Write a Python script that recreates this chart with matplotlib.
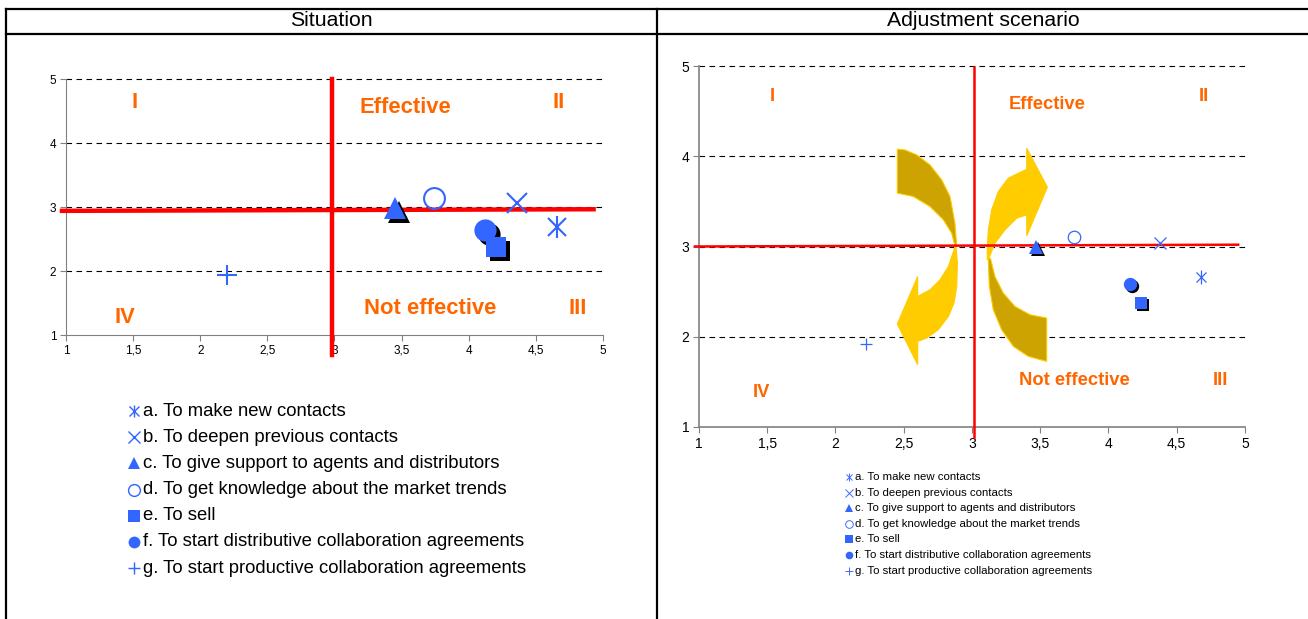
#importing libraries
import matplotlib
matplotlib.use('Agg')
from matplotlib import pyplot as plt
from matplotlib.lines import Line2D
from matplotlib.transforms import offset_copy

plt.rcParams['font.family'] = ['Liberation Sans', 'DejaVu Sans']

W, H = 1308, 619   # output size in pixels

# ---- data ----
labels = ['a. To make new contacts',
          'b. To deepen previous contacts',
          'c. To give support to agents and distributors',
          'd. To get knowledge about the market trends',
          'e. To sell',
          'f. To start distributive collaboration agreements',
          'g. To start productive collaboration agreements']

x_sit = [4.66, 4.36, 3.45, 3.74, 4.20, 4.12, 2.20]
y_sit = [2.69, 3.06, 2.98, 3.14, 2.38, 2.64, 1.94]

x_adj = [4.68, 4.38, 3.47, 3.75, 4.24, 4.16, 2.22]
y_adj = [2.66, 3.04, 2.99, 3.11, 2.37, 2.58, 1.92]

xticks = [1, 1.5, 2, 2.5, 3, 3.5, 4, 4.5, 5]
xtick_labels = ['1', '1,5', '2', '2,5', '3', '3,5', '4', '4,5', '5']
yticks = [1, 2, 3, 4, 5]

quad_names = ['I', 'II', 'III', 'IV', 'Effective', 'Not effective']
quad_sit_x = [1.51, 4.67, 4.81, 1.44, 3.53, 3.71]
quad_sit_y = [4.63, 4.63, 1.42, 1.27, 4.55, 1.42]
quad_adj_x = [1.54, 4.70, 4.82, 1.46, 3.55, 3.75]
quad_adj_y = [4.66, 4.66, 1.51, 1.38, 4.57, 1.51]

# red quadrant lines (x0, y0, x1, y1)
red_sit_h = [0.97, 2.94, 4.93, 2.965]
red_sit_v = [2.98, 5.0, 2.98, 0.69]
red_adj_h = [0.97, 3.0, 4.95, 3.02]
red_adj_v = [3.015, 4.99, 3.015, 0.89]

# curved arrows in the adjustment scenario (outlines in data units)
left_tail_x = [2.453, 2.509, 2.595, 2.692, 2.778, 2.839, 2.875, 2.888, 2.875, 2.851, 2.790, 2.692, 2.570, 2.453]
left_tail_y = [4.078, 4.070, 4.015, 3.904, 3.739, 3.554, 3.259, 3.007, 3.007, 3.148, 3.296, 3.443, 3.554, 3.591]
left_head_x = [2.883, 2.893, 2.888, 2.868, 2.827, 2.753, 2.668, 2.602, 2.602, 2.453, 2.602, 2.602, 2.692, 2.766, 2.827, 2.868, 2.875]
left_head_y = [3.000, 2.815, 2.557, 2.373, 2.225, 2.078, 1.986, 1.948, 1.690, 2.141, 2.668, 2.446, 2.520, 2.631, 2.778, 2.963, 3.007]
right_head_x = [3.112, 3.112, 3.120, 3.144, 3.193, 3.266, 3.401, 3.401, 3.552, 3.401, 3.401, 3.327, 3.242, 3.168, 3.132]
right_head_y = [2.850, 3.000, 3.185, 3.406, 3.609, 3.757, 3.857, 4.089, 3.657, 3.118, 3.351, 3.314, 3.185, 3.037, 2.900]
right_tail_x = [3.120, 3.120, 3.127, 3.156, 3.217, 3.303, 3.413, 3.547, 3.547, 3.425, 3.315, 3.229, 3.168, 3.144, 3.135]
right_tail_y = [2.870, 2.815, 2.557, 2.299, 2.078, 1.893, 1.782, 1.727, 2.207, 2.244, 2.336, 2.484, 2.668, 2.815, 2.870]

BLUE = '#3366FF'
ORANGE = '#FF6600'
RED = '#FF0000'


def px2fig(px, py):
    return px / W, 1 - py / H


def draw_marker(ax, x, y, i, s, shadow):
    # one marker per category, shadow for the filled ones
    lw = 1.5 * s
    if i == 0:
        ax.plot(x, y, marker='x', ms=13 * s, mew=lw, color=BLUE, zorder=5)
        ax.plot(x, y, marker='|', ms=16 * s, mew=lw, color=BLUE, zorder=5)
    elif i == 1:
        ax.plot(x, y, marker='x', ms=15 * s, mew=lw, color=BLUE, zorder=5)
    elif i == 3:
        ax.plot(x, y, marker='o', ms=15 * s, mew=lw, mfc='none', mec=BLUE, zorder=5)
    elif i == 6:
        ax.plot(x, y, marker='+', ms=14 * s, mew=lw, color=BLUE, zorder=5)
    else:
        mk, ms = {2: ('^', 16), 4: ('s', 14), 5: ('o', 16)}[i]
        tr = offset_copy(ax.transData, fig=ax.figure, x=shadow, y=-shadow, units='dots')
        ax.plot(x, y, marker=mk, ms=ms * s, color='black', mew=0, transform=tr, zorder=4)
        ax.plot(x, y, marker=mk, ms=ms * s, color=BLUE, mew=0, zorder=5)


def legend_marker(fig, px, py, i, s):
    fx, fy = px2fig(px, py)
    kw = dict(transform=fig.transFigure, color=BLUE, linestyle='none')
    lw = 1.2 * s
    if i == 0:
        fig.add_artist(Line2D([fx], [fy], marker='x', ms=9 * s, mew=lw, **kw))
        fig.add_artist(Line2D([fx], [fy], marker='|', ms=11 * s, mew=lw, **kw))
    elif i == 1:
        fig.add_artist(Line2D([fx], [fy], marker='x', ms=10 * s, mew=lw, **kw))
    elif i == 3:
        fig.add_artist(Line2D([fx], [fy], marker='o', ms=10 * s, mew=lw, mfc='none', **kw))
    elif i == 6:
        fig.add_artist(Line2D([fx], [fy], marker='+', ms=11 * s, mew=lw, **kw))
    else:
        mk = {2: '^', 4: 's', 5: 'o'}[i]
        fig.add_artist(Line2D([fx], [fy], marker=mk, ms=10 * s, mew=0, **kw))


def setup_axes(ax, tick_size, spine_lw):
    ax.set_xlim(1, 5)
    ax.set_ylim(1, 5)
    ax.set_xticks(xticks)
    ax.set_xticklabels(xtick_labels)
    ax.set_yticks(yticks)
    for side in ['top', 'right']:
        ax.spines[side].set_visible(False)
    for side in ['left', 'bottom']:
        ax.spines[side].set_color('#808080')
        ax.spines[side].set_linewidth(spine_lw)
    ax.tick_params(axis='both', direction='out', length=4, width=0.8, color='#808080',
                   labelsize=tick_size, pad=3)
    for yv in yticks[1:]:
        ax.plot([1, 5], [yv, yv], color='black', lw=0.8, dashes=(5, 4), zorder=1, clip_on=False)


fig = plt.figure(figsize=(W / 100, H / 100), dpi=100)

# ---- table frame ----
for (x0, y0, x1, y1) in [(6, 9, W, 9), (6, 34, W, 34), (6, 9, 6, H), (657, 9, 657, H)]:
    a, b = px2fig(x0, y0)
    c, d = px2fig(x1, y1)
    fig.add_artist(Line2D([a, c], [b, d], color='black', lw=1.6, transform=fig.transFigure))
fig.text(*px2fig(331, 21), 'Situation', ha='center', va='center', fontsize=15.3)
fig.text(*px2fig(983, 21), 'Adjustment scenario', ha='center', va='center', fontsize=15.3)

# ---- left panel: situation ----
ax1 = fig.add_axes([66 / W, 1 - 335 / H, 537 / W, 256 / H])
setup_axes(ax1, 8.5, 0.8)
ax1.plot(red_sit_h[0::2], red_sit_h[1::2], color=RED, lw=3.2, zorder=3, clip_on=False)
ax1.plot(red_sit_v[0::2], red_sit_v[1::2], color=RED, lw=3.2, zorder=6, clip_on=False)
for i in range(len(labels)):
    draw_marker(ax1, x_sit[i], y_sit[i], i, 1.0, 4)
for name, qx, qy in zip(quad_names, quad_sit_x, quad_sit_y):
    ax1.text(qx, qy, name, color=ORANGE, fontsize=15.8, fontweight='bold', ha='center', va='center')

for i, lab in enumerate(labels):
    py = 411 + i * 26.2
    legend_marker(fig, 134, py, i, 0.85)
    fig.text(*px2fig(143, py), lab, fontsize=13.3, va='center', ha='left')

# ---- right panel: adjustment scenario ----
ax2 = fig.add_axes([699 / W, 1 - 427 / H, 546 / W, 361 / H])
setup_axes(ax2, 10, 1.2)
ax2.fill(left_tail_x, left_tail_y, color='#CCA300', ec='#FFCC00', lw=0.8, zorder=2)
ax2.fill(left_head_x, left_head_y, color='#FFCC00', ec='#FFCC00', lw=0.8, zorder=2)
ax2.fill(right_tail_x, right_tail_y, color='#CCA300', ec='#FFCC00', lw=0.8, zorder=2)
ax2.fill(right_head_x, right_head_y, color='#FFCC00', ec='#FFCC00', lw=0.8, zorder=2)
ax2.plot(red_adj_h[0::2], red_adj_h[1::2], color=RED, lw=1.8, zorder=3, clip_on=False)
ax2.plot(red_adj_v[0::2], red_adj_v[1::2], color=RED, lw=1.8, zorder=6, clip_on=False)
for i in range(len(labels)):
    draw_marker(ax2, x_adj[i], y_adj[i], i, 0.6, 2)
for name, qx, qy in zip(quad_names, quad_adj_x, quad_adj_y):
    ax2.text(qx, qy, name, color=ORANGE, fontsize=13.2, fontweight='bold', ha='center', va='center')

for i, lab in enumerate(labels):
    py = 477 + i * 15.6
    legend_marker(fig, 849, py, i, 0.55)
    fig.text(*px2fig(855, py), lab, fontsize=8.2, va='center', ha='left')

fig.savefig('out.png', dpi=100, facecolor='white')
